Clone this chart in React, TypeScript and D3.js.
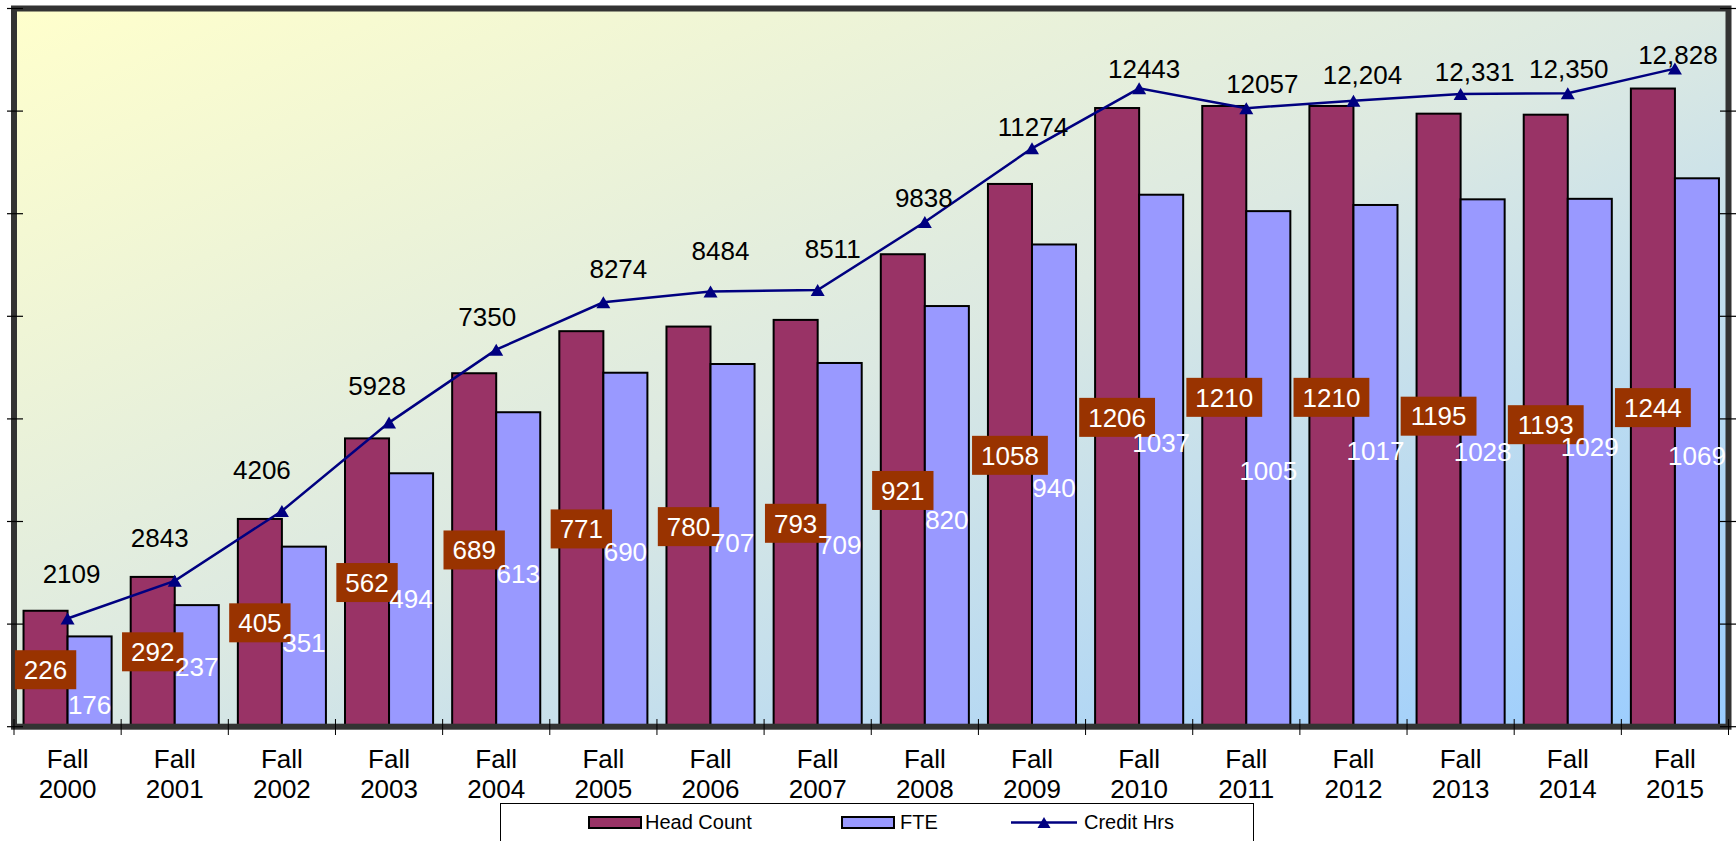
import React from 'react';
import * as d3 from 'd3';

// ---- data ----
const categories = ['2000', '2001', '2002', '2003', '2004', '2005', '2006', '2007', '2008', '2009', '2010', '2011', '2012', '2013', '2014', '2015'];
const headCount = [226, 292, 405, 562, 689, 771, 780, 793, 921, 1058, 1206, 1210, 1210, 1195, 1193, 1244];
const fte = [176, 237, 351, 494, 613, 690, 707, 709, 820, 940, 1037, 1005, 1017, 1028, 1029, 1069];
const creditHrs = [2109, 2843, 4206, 5928, 7350, 8274, 8484, 8511, 9838, 11274, 12443, 12057, 12204, 12331, 12350, 12828];
const creditLabels = ['2109', '2843', '4206', '5928', '7350', '8274', '8484', '8511', '9838', '11274', '12443', '12057', '12,204', '12,331', '12,350', '12,828'];
const leftDomain = [0, 1400];
const rightDomain = [0, 14000];
const seriesNames = ['Head Count', 'FTE', 'Credit Hrs'];

// ---- label nudges (manual label placement, px) ----
const hcLabelDy = [1, 0, 0, 0, 0, 0, 0, 0, 0, 0, 0, -19, -19, -4, 4, 0];
const fteLabelDy = [23, 1, 6, -1, 4, 2, -3, 0, 3, 2, -18, 2, -15, -11, -16, 3];
const creditLabelDx = [4, -15, -20, -12, -9, 15, 10, 15, -1, 1, 5, 16, 9, 14, 1, 3];
const creditLabelDy = [-45, -43, -41, -37, -33, -34, -41, -41, -24, -22, -20, -24, -26, -22, -24, -14];

const W = 1736;
const H = 841;
const plot = { left: 14, right: 1728.5, top: 8.5, bottom: 726.7 };
const FONT = '"Liberation Sans", Arial, Helvetica, sans-serif';
const C_HC = '#993366';
const C_FTE = '#9999FF';
const C_LINE = '#000080';
const C_BOX = '#993300';

export default function App() {
  const x = d3.scaleBand<string>().domain(categories).range([plot.left, plot.right]).padding(0);
  const step = x.bandwidth();
  const barW = step * 0.411;
  const barOff = (step - 2 * barW) / 2;
  const yL = d3.scaleLinear().domain(leftDomain).range([plot.bottom, plot.top]);
  const yR = d3.scaleLinear().domain(rightDomain).range([plot.bottom, plot.top]);
  const cx = (i: number) => (x(categories[i]) as number) + step / 2;

  const linePath = d3
    .line<number>()
    .x((_, i) => cx(i))
    .y((d) => yR(d))(creditHrs) as string;

  const tri = (px: number, py: number, w = 14, h = 12) =>
    `M${px},${py - h / 2}L${px + w / 2},${py + h / 2}L${px - w / 2},${py + h / 2}Z`;

  const leftTicks = yL.ticks(7);
  const fs = 26;
  const capHalf = fs * 0.716 / 2;
  const digitW = fs * 0.556;

  return (
    <svg
      width={W}
      height={H}
      style={{ position: 'absolute', left: 0, top: 0, display: 'block', background: '#fff' }}
      fontFamily={FONT}
    >
      <defs>
        <linearGradient id="bg" x1="0" y1="0" x2="1" y2="1">
          <stop offset="0" stopColor="#FFFFCC" />
          <stop offset="0.5" stopColor="#DCE9E2" />
          <stop offset="1" stopColor="#99CCFF" />
        </linearGradient>
      </defs>

      {/* plot background */}
      <rect x={plot.left} y={plot.top} width={plot.right - plot.left} height={plot.bottom - plot.top} fill="url(#bg)" />

      {/* bars */}
      {categories.map((c, i) => {
        const x0 = (x(c) as number) + barOff;
        return (
          <g key={c}>
            <rect x={x0} y={yL(headCount[i])} width={barW} height={plot.bottom - yL(headCount[i])} fill={C_HC} stroke="#000" strokeWidth={2} />
            <rect x={x0 + barW} y={yL(fte[i])} width={barW} height={plot.bottom - yL(fte[i])} fill={C_FTE} stroke="#000" strokeWidth={2} />
          </g>
        );
      })}

      {/* frame */}
      <rect x={plot.left} y={plot.top} width={plot.right - plot.left} height={plot.bottom - plot.top} fill="none" stroke="#333" strokeWidth={6} />

      {/* axis ticks */}
      {leftTicks.map((t) => (
        <g key={t}>
          <line x1={7} x2={23} y1={yL(t)} y2={yL(t)} stroke="#000" strokeWidth={1.2} />
          <line x1={1720} x2={1736} y1={yL(t)} y2={yL(t)} stroke="#000" strokeWidth={1.2} />
        </g>
      ))}
      {d3.range(categories.length + 1).map((k) => {
        const xx = plot.left + k * step;
        return <line key={k} x1={xx} x2={xx} y1={719} y2={735} stroke="#000" strokeWidth={1} />;
      })}

      {/* credit hrs line */}
      <path d={linePath} fill="none" stroke={C_LINE} strokeWidth={2.5} />
      {creditHrs.map((v, i) => (
        <path key={i} d={tri(cx(i), yR(v))} fill={C_LINE} />
      ))}

      {/* head count labels */}
      {headCount.map((v, i) => {
        const bx = (x(categories[i]) as number) + barOff + barW / 2;
        const by = (yL(v) + plot.bottom) / 2 + hcLabelDy[i];
        const txt = String(v);
        const bw = txt.length * digitW + 18;
        return (
          <g key={i}>
            <rect x={bx - bw / 2} y={by - 19.5} width={bw} height={39} fill={C_BOX} />
            <text x={bx} y={by + capHalf} textAnchor="middle" fontSize={fs} fill="#fff">{txt}</text>
          </g>
        );
      })}

      {/* FTE labels */}
      {fte.map((v, i) => {
        const bx = (x(categories[i]) as number) + barOff + barW * 1.5;
        const by = (yL(v) + plot.bottom) / 2 + fteLabelDy[i];
        return (
          <text key={i} x={bx} y={by + capHalf} textAnchor="middle" fontSize={fs} fill="#fff">{v}</text>
        );
      })}

      {/* credit labels */}
      {creditHrs.map((v, i) => (
        <text key={i} x={cx(i) + creditLabelDx[i]} y={yR(v) + creditLabelDy[i] + capHalf} textAnchor="middle" fontSize={fs} fill="#000">
          {creditLabels[i]}
        </text>
      ))}

      {/* category labels */}
      {categories.map((c, i) => (
        <text key={c} x={cx(i)} textAnchor="middle" fontSize={fs} fill="#000">
          <tspan x={cx(i)} y={758.7 + capHalf}>Fall</tspan>
          <tspan x={cx(i)} y={789 + capHalf}>{c}</tspan>
        </text>
      ))}

      {/* legend */}
      <g>
        <rect x={500.5} y={803.5} width={753} height={60} fill="#fff" stroke="#000" strokeWidth={1} />
        <rect x={589} y={817} width={52} height={11} fill={C_HC} stroke="#000" strokeWidth={2} />
        <text x={645} y={822 + 7.2} fontSize={20} fill="#000">{seriesNames[0]}</text>
        <rect x={842} y={817} width={52} height={11} fill={C_FTE} stroke="#000" strokeWidth={2} />
        <text x={900} y={822 + 7.2} fontSize={20} fill="#000">{seriesNames[1]}</text>
        <line x1={1011} x2={1077} y1={822.5} y2={822.5} stroke={C_LINE} strokeWidth={2.5} />
        <path d={tri(1044, 822.5, 13, 11)} fill={C_LINE} />
        <text x={1084} y={822 + 7.2} fontSize={20} fill="#000">{seriesNames[2]}</text>
      </g>
    </svg>
  );
}
